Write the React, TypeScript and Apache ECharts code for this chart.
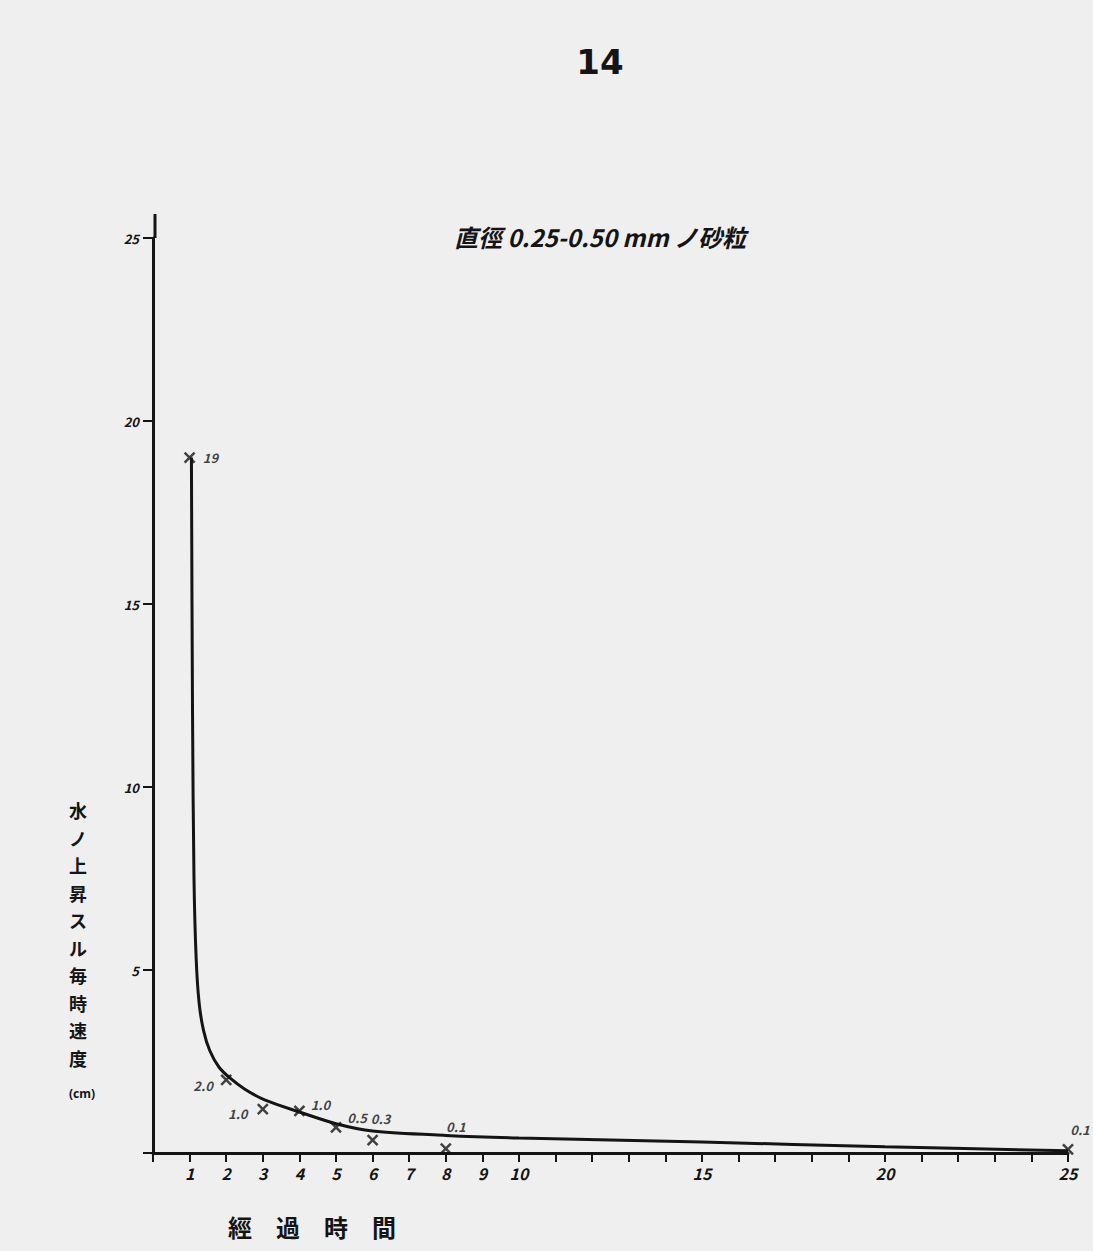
import React, { useEffect, useRef } from "react";
import * as echarts from "echarts";

// Observed points (hour, speed cm/h)
const pointHours = [1, 2, 3, 4, 5, 6, 8, 25];
const pointSpeeds = [19, 2.0, 1.2, 1.15, 0.7, 0.35, 0.12, 0.1];
const pointLabels = ["19", "2.0", "1.0", "1.0", "0.5", "0.3", "0.1", "0.1"];

// Hand-drawn fitted curve
const curveHours = [1.05, 1.08, 1.12, 1.18, 1.26, 1.38, 1.55, 1.8, 2.1, 2.5, 3.05, 4.0, 5.0, 6.0, 8, 10, 15, 20, 25];
const curveSpeeds = [19, 12, 7.5, 5.3, 4.1, 3.35, 2.8, 2.35, 2.05, 1.75, 1.45, 1.12, 0.8, 0.6, 0.48, 0.41, 0.3, 0.17, 0.06];

const xMajorLabels = [1, 2, 3, 4, 5, 6, 7, 8, 9, 10, 15, 20, 25];
const yTickLabels = [5, 10, 15, 20, 25];

const pageNumber = "14";
const titleText = "直徑 0.25-0.50 mm ノ砂粒";
const yAxisTitle = "水ノ上昇スル毎時速度";
const yAxisUnit = "(cm)";
const xAxisTitle = "經過時間";

const labelPlacement: Record<number, { position: string; offset: [number, number] }> = {
  0: { position: "right", offset: [2, 0] },
  1: { position: "left", offset: [-2, 6] },
  2: { position: "left", offset: [-4, 4] },
  3: { position: "right", offset: [0, -6] },
  4: { position: "right", offset: [0, -10] },
  5: { position: "top", offset: [8, -4] },
  6: { position: "top", offset: [10, -4] },
  7: { position: "top", offset: [12, -2] },
};

export default function App() {
  const ref = useRef<HTMLDivElement>(null);
  useEffect(() => {
    if (!ref.current) return;
    const chart = echarts.init(ref.current, null, { renderer: "svg" });
    const ink = "#141414";
    const hand = "'Noto Sans CJK JP', 'Noto Sans', sans-serif";
    const pts = pointHours.map((h, i) => ({
      value: [h, pointSpeeds[i]],
      label: {
        show: true,
        formatter: pointLabels[i],
        position: labelPlacement[i].position,
        offset: labelPlacement[i].offset,
      },
    }));
    const yTitleChars = yAxisTitle.split("").map((ch, i) => ({
      type: "text",
      x: 78,
      y: 810 + i * 27.5,
      style: {
        text: ch,
        fill: ink,
        font: "bold 18px 'Noto Sans CJK JP', sans-serif",
        textAlign: "center",
        textVerticalAlign: "middle",
      },
    }));
    chart.setOption({
      animation: false,
      backgroundColor: "#efefef",
      grid: { left: 153, right: 25, top: 238, bottom: 98 },
      xAxis: {
        type: "value",
        min: 0,
        max: 25,
        interval: 1,
        axisLine: { show: true, lineStyle: { color: ink, width: 3 } },
        axisTick: { show: true, length: 9, lineStyle: { color: ink, width: 2 } },
        splitLine: { show: false },
        axisLabel: {
          color: ink,
          fontSize: 16,
          fontWeight: "bold",
          fontStyle: "italic",
          fontFamily: hand,
          margin: 12,
          formatter: (v: number) => (xMajorLabels.includes(v) ? String(v) : ""),
        },
      },
      yAxis: {
        type: "value",
        min: 0,
        max: 25,
        interval: 5,
        axisLine: { show: true, lineStyle: { color: ink, width: 3 } },
        axisTick: { show: true, length: 10, lineStyle: { color: ink, width: 2 } },
        splitLine: { show: false },
        axisLabel: {
          color: ink,
          fontSize: 13,
          fontWeight: "bold",
          fontStyle: "italic",
          fontFamily: hand,
          margin: 14,
          formatter: (v: number) => (yTickLabels.includes(v) ? String(v) : ""),
        },
      },
      series: [
        {
          type: "line",
          data: curveHours.map((h, i) => [h, curveSpeeds[i]]),
          smooth: 0.3,
          showSymbol: false,
          lineStyle: { color: ink, width: 3 },
          z: 2,
        },
        {
          type: "scatter",
          data: pts,
          symbol: "path://M0 0L10 10M10 0L0 10",
          symbolSize: 10,
          itemStyle: { color: ink, borderColor: ink, borderWidth: 2.5 },
          label: {
            color: ink,
            fontSize: 13,
            fontWeight: "bold",
            fontStyle: "italic",
            fontFamily: hand,
          },
          z: 3,
        },
      ],
      graphic: [
        {
          type: "line",
          shape: { x1: 155, y1: 214, x2: 155, y2: 238 },
          style: { stroke: ink, lineWidth: 3 },
        },
        {
          type: "text",
          x: 600,
          y: 62,
          style: {
            text: pageNumber,
            fill: ink,
            font: "bold 34px 'DejaVu Sans', sans-serif",
            textAlign: "center",
            textVerticalAlign: "middle",
          },
        },
        {
          type: "text",
          x: 600,
          y: 236,
          style: {
            text: titleText,
            fill: ink,
            font: "bold italic 24px 'Noto Sans CJK JP', sans-serif",
            textAlign: "center",
            textVerticalAlign: "middle",
          },
        },
        ...yTitleChars,
        {
          type: "text",
          x: 82,
          y: 1093,
          style: {
            text: yAxisUnit,
            fill: ink,
            font: "bold 12px 'Noto Sans', sans-serif",
            textAlign: "center",
            textVerticalAlign: "middle",
          },
        },
        {
          type: "text",
          x: 312,
          y: 1226,
          style: {
            text: xAxisTitle.split("").join("\u3000"),
            fill: ink,
            font: "bold 24px 'Noto Sans CJK JP', sans-serif",
            textAlign: "center",
            textVerticalAlign: "middle",
          },
        },
      ],
    });
    return () => chart.dispose();
  }, []);
  return (
    <div
      ref={ref}
      style={{ position: "absolute", left: 0, top: 0, width: 1093, height: 1251 }}
    />
  );
}
